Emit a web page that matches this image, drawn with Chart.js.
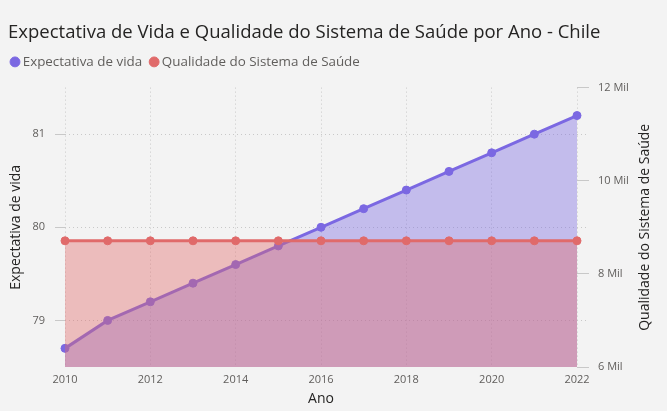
<!DOCTYPE html>
<html>
<head>
<meta charset="utf-8">
<script src="https://cdn.jsdelivr.net/npm/chart.js@4/dist/chart.umd.min.js"></script>
<style>
  html, body { margin: 0; padding: 0; background: #f3f3f3; }
  #wrap { width: 667px; height: 411px; position: relative; }
</style>
</head>
<body>
<div id="wrap"><canvas id="c" width="667" height="411"></canvas></div>
<script>
const years = ['2010','2011','2012','2013','2014','2015','2016','2017','2018','2019','2020','2021','2022'];
const expectativaVida = [78.7, 79.0, 79.2, 79.4, 79.6, 79.8, 80.0, 80.2, 80.4, 80.6, 80.8, 81.0, 81.2];
const qualidadeSaude = [8710, 8710, 8710, 8710, 8710, 8710, 8710, 8710, 8710, 8710, 8710, 8710, 8710];
const leftTicks = [79, 80, 81];
const rightTicks = [6000, 8000, 10000, 12000];

const FONT = '"Open Sans", Lato, sans-serif';
const purple = 'rgb(123,104,226)';
const red = 'rgb(224,106,106)';
const gridColor = 'rgb(200,200,200)';

const helpers = {
  id: 'helpers',
  beforeLayout(chart) {
    const lg = chart.legend;
    if (lg && !lg._patched) {
      const f = lg.fit;
      lg.fit = function () { f.call(this); this.height += 9; };
      lg._patched = true;
    }
  },
  afterLayout(chart) {
    if (chart.legend) chart.legend.left = 3;
  },
  afterDraw(chart) {
    const ctx = chart.ctx, y = chart.scales.y, ca = chart.chartArea;
    ctx.save();
    ctx.strokeStyle = gridColor;
    ctx.lineWidth = 1;
    ctx.setLineDash([1, 3]);
    leftTicks.forEach(v => {
      const py = Math.round(y.getPixelForValue(v)) + 0.5;
      ctx.beginPath(); ctx.moveTo(ca.right, py); ctx.lineTo(ca.right + 12, py); ctx.stroke();
    });
    ctx.setLineDash([]);
    // right axis title, reading bottom-to-top
    ctx.fillStyle = '#252423';
    ctx.font = '14px ' + FONT;
    ctx.textAlign = 'center';
    ctx.textBaseline = 'middle';
    ctx.translate(645, (ca.top + ca.bottom) / 2);
    ctx.rotate(-Math.PI / 2);
    ctx.fillText('Qualidade do Sistema de Saúde', 0, 0);
    ctx.restore();
  }
};

new Chart(document.getElementById('c'), {
  type: 'line',
  data: {
    labels: years,
    datasets: [
      {
        label: 'Expectativa de vida',
        data: expectativaVida,
        yAxisID: 'y',
        borderColor: purple,
        backgroundColor: 'rgba(123,104,226,0.4)',
        pointBackgroundColor: purple,
        pointBorderColor: purple,
        borderWidth: 3,
        pointRadius: 4,
        pointBorderWidth: 1,
        fill: 'start',
        tension: 0,
        order: 1
      },
      {
        label: 'Qualidade do Sistema de Saúde',
        data: qualidadeSaude,
        yAxisID: 'y1',
        borderColor: red,
        backgroundColor: 'rgba(224,106,106,0.4)',
        pointBackgroundColor: red,
        pointBorderColor: red,
        borderWidth: 3,
        pointRadius: 4,
        pointBorderWidth: 1,
        fill: 'start',
        tension: 0,
        order: 0
      }
    ]
  },
  options: {
    responsive: false,
    animation: false,
    layout: { padding: { left: 8, right: 0, top: 0, bottom: 0 } },
    plugins: {
      title: {
        display: true,
        text: 'Expectativa de Vida e Qualidade do Sistema de Saúde por Ano - Chile',
        align: 'start',
        color: '#252423',
        font: { family: FONT, size: 18.5, weight: 'normal' },
        padding: { top: 22, bottom: 0 }
      },
      legend: {
        display: true,
        align: 'start',
        labels: {
          usePointStyle: true,
          pointStyle: 'circle',
          boxWidth: 2,
          boxHeight: 7,
          padding: 11,
          color: '#605E5C',
          font: { family: FONT, size: 13.4 },
          sort: (a, b) => a.datasetIndex - b.datasetIndex
        }
      },
      tooltip: { enabled: false }
    },
    scales: {
      x: {
        offset: false,
        afterFit: s => { s.height = 44; },
        border: { display: false, dash: [1, 3] },
        grid: {
          drawTicks: false,
          color: ctx => (ctx.index % 2 === 0 ? gridColor : 'transparent')
        },
        ticks: {
          autoSkip: false,
          maxRotation: 0,
          padding: 6,
          color: '#605E5C',
          font: { family: FONT, size: 11 },
          callback: function (v, i) { return i % 2 === 0 ? years[i] : ''; }
        },
        title: {
          display: true,
          text: 'Ano',
          color: '#252423',
          font: { family: FONT, size: 14 },
          padding: { top: 4, bottom: 4 }
        }
      },
      y: {
        position: 'left',
        min: 78.5,
        max: 81.5,
        afterBuildTicks: s => { s.ticks = leftTicks.map(v => ({ value: v })); },
        afterFit: s => { s.width = 57; },
        border: { display: false, dash: [1, 3] },
        grid: { color: gridColor, tickLength: 10, tickColor: gridColor },
        ticks: {
          padding: 10,
          color: '#605E5C',
          font: { family: FONT, size: 11 }
        },
        title: {
          display: true,
          text: 'Expectativa de vida',
          color: '#252423',
          font: { family: FONT, size: 14 },
          padding: { top: 0, bottom: 0 }
        }
      },
      y1: {
        position: 'right',
        min: 6000,
        max: 12000,
        afterBuildTicks: s => { s.ticks = rightTicks.map(v => ({ value: v })); },
        afterFit: s => { s.width = 90; },
        border: { display: false, dash: [1, 3] },
        grid: { drawOnChartArea: false, tickLength: 12, tickColor: gridColor },
        ticks: {
          padding: 9,
          color: '#605E5C',
          font: { family: FONT, size: 11 },
          callback: v => (v / 1000) + ' Mil'
        },
        title: { display: false }
      }
    }
  },
  plugins: [helpers]
});
</script>
</body>
</html>
